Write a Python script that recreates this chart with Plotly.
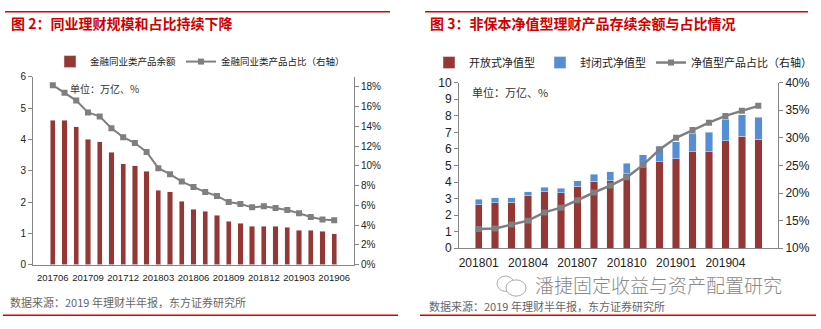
import plotly.graph_objects as go

W, H = 821, 329

# ---- Left chart data ----
months_l = ["201706","201707","201708","201709","201710","201711","201712","201801","201802",
            "201803","201804","201805","201806","201807","201808","201809","201810","201811",
            "201812","201901","201902","201903","201904","201905","201906"]
balance_l = [4.62, 4.62, 4.40, 4.00, 3.93, 3.59, 3.23, 3.16, 2.98, 2.38, 2.32, 2.03, 1.77,
             1.70, 1.58, 1.38, 1.32, 1.22, 1.22, 1.22, 1.20, 1.10, 1.10, 1.06, 0.98]
share_l = [0.1816, 0.174, 0.166, 0.154, 0.150, 0.138, 0.129, 0.123, 0.114, 0.0976, 0.0915,
           0.084, 0.0785, 0.0734, 0.0695, 0.0633, 0.0614, 0.0579, 0.0591, 0.0572, 0.0553,
           0.052, 0.0482, 0.0456, 0.0449]
ticks_l = months_l[::3]

# ---- Right chart data ----
months_r = ["201801","201802","201803","201804","201805","201806","201807","201808","201809",
            "201810","201811","201812","201901","201902","201903","201904","201905","201906"]
open_nav = [2.64, 2.74, 2.78, 3.17, 3.40, 3.34, 3.73, 4.05, 4.09, 4.50, 4.96, 5.21, 5.39,
            5.83, 5.83, 6.50, 6.76, 6.58]
closed_nav = [0.31, 0.31, 0.27, 0.23, 0.29, 0.27, 0.36, 0.43, 0.52, 0.62, 0.70, 0.95, 1.04,
              1.10, 1.16, 1.30, 1.31, 1.34]
share_r = [0.1347, 0.136, 0.143, 0.150, 0.165, 0.1735, 0.187, 0.201, 0.2135, 0.2285, 0.251,
           0.279, 0.300, 0.314, 0.3275, 0.3397, 0.349, 0.358]
ticks_r = months_r[::3]

RED = "#953735"
BLUE = "#558ED5"
GRAY = "#7F7F7F"
AX = "#868686"
TITLE_RED = "#D00000"
FONT = "Noto Sans CJK SC"

def px_x(p):
    return p / W

def px_y(p):
    return 1 - p / H

fig = go.Figure()

fig.add_trace(go.Bar(x=months_l, y=balance_l, name="金融同业类产品余额", marker_color=RED,
                     xaxis="x", yaxis="y", legend="legend"))
fig.add_trace(go.Scatter(x=months_l, y=share_l, name="金融同业类产品占比（右轴）", mode="lines+markers",
                         line=dict(color=GRAY, width=2), marker=dict(symbol="square", size=6, color=GRAY),
                         xaxis="x", yaxis="y2", legend="legend"))

fig.add_trace(go.Bar(x=months_r, y=open_nav, name="开放式净值型", marker_color=RED,
                     xaxis="x3", yaxis="y3", legend="legend2"))
fig.add_trace(go.Bar(x=months_r, y=closed_nav, name="封闭式净值型", marker_color=BLUE,
                     xaxis="x3", yaxis="y3", legend="legend2"))
fig.add_trace(go.Scatter(x=months_r, y=share_r, name="净值型产品占比（右轴）", mode="lines+markers",
                         line=dict(color=GRAY, width=2.5), marker=dict(symbol="square", size=6, color=GRAY),
                         xaxis="x3", yaxis="y4", legend="legend2"))

axis_common = dict(showgrid=False, zeroline=False, showline=True, linecolor=AX, linewidth=1,
                   ticks="outside", tickcolor=AX, ticklen=4)

fig.update_layout(
    width=W, height=H, margin=dict(l=0, r=0, t=0, b=0),
    paper_bgcolor="white", plot_bgcolor="white",
    font=dict(family=FONT, color="#333333"),
    barmode="stack", bargap=0.55,
    showlegend=True,
    xaxis=dict(domain=[px_x(33), px_x(354)], anchor="y", type="category",
               tickvals=ticks_l, ticktext=ticks_l, tickangle=0,
               tickfont=dict(size=9.5, family="Liberation Sans", color="#222222"),
               showline=True, linecolor=AX, ticks="", showgrid=False, ticklabelstandoff=4),
    yaxis=dict(domain=[px_y(269), px_y(73)], range=[0, 6], dtick=1, anchor="x",
               tickfont=dict(size=10, family="Liberation Sans", color="#222222"), **axis_common),
    yaxis2=dict(overlaying="y", side="right", anchor="x", range=[0, 0.19],
                tickvals=[i / 100 for i in range(0, 19, 2)], tickformat=".0%",
                tickfont=dict(size=10, family="Liberation Sans", color="#222222"), **axis_common),
    xaxis3=dict(domain=[px_x(459), px_x(778)], anchor="y3", type="category",
                tickvals=ticks_r, ticktext=ticks_r, tickangle=0,
                tickfont=dict(size=12, family="Liberation Sans", color="#222222"),
                showline=True, linecolor=AX, ticks="", showgrid=False, ticklabelstandoff=3),
    yaxis3=dict(domain=[px_y(252), px_y(79)], range=[0, 10], dtick=1, anchor="x3",
                tickfont=dict(size=12, family="Liberation Sans", color="#222222"), **axis_common),
    yaxis4=dict(overlaying="y3", side="right", anchor="x3", range=[0.10, 0.40], dtick=0.05,
                tickformat=".0%", tickfont=dict(size=12, family="Liberation Sans", color="#222222"),
                **axis_common),
    legend=dict(orientation="h", x=px_x(200), xanchor="center", y=px_y(57), yanchor="middle",
                font=dict(size=9.5, family=FONT, color="#222222"), bgcolor="rgba(0,0,0,0)",
                itemwidth=30, traceorder="normal", tracegroupgap=0),
    legend2=dict(orientation="h", x=px_x(623), xanchor="center", y=px_y(58), yanchor="middle",
                 font=dict(size=11, family=FONT, color="#222222"), bgcolor="rgba(0,0,0,0)",
                 itemwidth=30, traceorder="normal", tracegroupgap=0),
)

# decorative lines + watermark icon
shapes = [
    dict(type="line", xref="paper", yref="paper", x0=px_x(5), x1=px_x(390), y0=px_y(5), y1=px_y(5),
         line=dict(color="#E00000", width=1.5)),
    dict(type="line", xref="paper", yref="paper", x0=px_x(425), x1=px_x(808), y0=px_y(5), y1=px_y(5),
         line=dict(color="#E00000", width=1.5)),
    dict(type="line", xref="paper", yref="paper", x0=px_x(3), x1=px_x(398), y0=px_y(322), y1=px_y(322),
         line=dict(color="#E00000", width=1.5)),
    dict(type="line", xref="paper", yref="paper", x0=px_x(420), x1=px_x(816), y0=px_y(322), y1=px_y(322),
         line=dict(color="#E00000", width=1.5)),
    dict(type="circle", xref="paper", yref="paper", x0=px_x(497), x1=px_x(514), y0=px_y(297), y1=px_y(281),
         line=dict(color="#AAAAAA", width=1)),
    dict(type="circle", xref="paper", yref="paper", x0=px_x(506), x1=px_x(526), y0=px_y(302), y1=px_y(285),
         line=dict(color="#AAAAAA", width=1), fillcolor="white"),
]
fig.update_layout(shapes=shapes)

annots = [
    dict(text="<b>图 2：同业理财规模和占比持续下降</b>", x=px_x(9), y=px_y(17), xanchor="left", yanchor="middle",
         font=dict(size=14, color=TITLE_RED, family=FONT)),
    dict(text="<b>图 3：非保本净值型理财产品存续余额与占比情况</b>", x=px_x(428), y=px_y(17), xanchor="left",
         yanchor="middle", font=dict(size=14, color=TITLE_RED, family=FONT)),
    dict(text="单位：万亿、%", x=px_x(68), y=px_y(85), xanchor="left", yanchor="middle",
         font=dict(size=10, color="#333333", family=FONT)),
    dict(text="单位：万亿、%", x=px_x(470), y=px_y(89), xanchor="left", yanchor="middle",
         font=dict(size=11, color="#333333", family=FONT)),
    dict(text="数据来源：2019 年理财半年报，东方证券研究所", x=px_x(8), y=px_y(308), xanchor="left",
         yanchor="middle", font=dict(size=11, color="#666666", family=FONT)),
    dict(text="潘捷固定收益与资产配置研究", x=px_x(533), y=px_y(289.5), xanchor="left", yanchor="middle",
         font=dict(size=19, color="#8A8A8A", family=FONT, weight=300)),
    dict(text="数据来源：2019 年理财半年报，东方证券研究所", x=px_x(427), y=px_y(312), xanchor="left",
         yanchor="middle", font=dict(size=11, color="#666666", family=FONT)),
]
for a in annots:
    a.update(xref="paper", yref="paper", showarrow=False)
fig.update_layout(annotations=annots)

fig.write_html("out.html")
